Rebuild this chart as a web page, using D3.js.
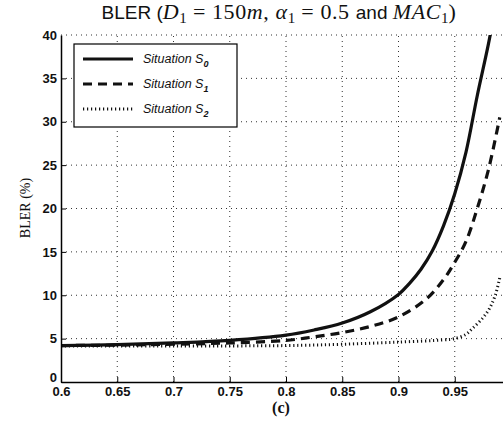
<!DOCTYPE html>
<html>
<head>
<meta charset="utf-8">
<script src="https://cdn.jsdelivr.net/npm/d3@7"></script>
<style>
  body { margin: 0; background: #fff; }
  svg { display: block; }
</style>
</head>
<body>
<svg id="chart" width="503" height="425"></svg>
<script>
// BLER curves
const xS0 = [0.6, 0.65, 0.7, 0.75, 0.8, 0.825, 0.85, 0.875, 0.9, 0.91, 0.92, 0.93, 0.94, 0.95, 0.96, 0.97, 0.98, 0.985];
const yS0 = [4.2, 4.3, 4.5, 4.8, 5.4, 6.0, 6.8, 8.1, 10.1, 11.4, 13.0, 15.1, 18.0, 21.7, 26.5, 33.0, 39.0, 42.5];

const xS1 = [0.6, 0.65, 0.7, 0.75, 0.8, 0.825, 0.85, 0.875, 0.9, 0.925, 0.94, 0.95, 0.96, 0.97, 0.98, 0.99];
const yS1 = [4.2, 4.25, 4.35, 4.5, 4.8, 5.2, 5.7, 6.4, 7.5, 9.6, 11.8, 13.8, 16.2, 20.0, 24.5, 30.5];

const xS2 = [0.6, 0.7, 0.8, 0.85, 0.9, 0.94, 0.95, 0.96, 0.966, 0.975, 0.981, 0.986, 0.99];
const yS2 = [4.15, 4.15, 4.2, 4.35, 4.6, 4.85, 5.0, 5.5, 6.2, 7.4, 8.5, 10.0, 12.0];

const xTicks = [0.6, 0.65, 0.7, 0.75, 0.8, 0.85, 0.9, 0.95];
const yTicks = [0, 5, 10, 15, 20, 25, 30, 35, 40];
const legendNames = ["0", "1", "2"];

const margin = { top: 35, left: 61 };
const width = 450;   // right edge lies beyond the picture
const height = 347;

const svg = d3.select('#chart');

const x = d3.scaleLinear().domain([0.6, 1.0]).range([margin.left, margin.left + width]);
const y = d3.scaleLinear().domain([0, 40]).range([margin.top + height, margin.top]);

svg.append('defs').append('clipPath').attr('id', 'plot')
  .append('rect')
  .attr('x', margin.left).attr('y', margin.top)
  .attr('width', width).attr('height', height);

// Grid
const grid = svg.append('g').attr('stroke', '#333').attr('stroke-width', 1).attr('stroke-dasharray', '1,4');
grid.selectAll('.gx')
  .data(xTicks.slice(1))
  .enter().append('line')
  .attr('x1', d => x(d)).attr('x2', d => x(d))
  .attr('y1', y(0)).attr('y2', y(40));
grid.selectAll('.gy')
  .data(yTicks.slice(1))
  .enter().append('line')
  .attr('x1', x(0.6)).attr('x2', x(1.0))
  .attr('y1', d => y(d)).attr('y2', d => y(d));

// Curves
const line = d3.line().x(d => x(d[0])).y(d => y(d[1])).curve(d3.curveCatmullRom.alpha(0.5));
const curves = svg.append('g').attr('clip-path', 'url(#plot)').attr('fill', 'none').attr('stroke', '#111');

curves.append('path')
  .datum(d3.zip(xS0, yS0))
  .attr('stroke-width', 3.2)
  .attr('d', line);

curves.append('path')
  .datum(d3.zip(xS1, yS1))
  .attr('stroke-width', 3.2)
  .attr('stroke-dasharray', '9,6')
  .attr('d', line);

curves.append('path')
  .datum(d3.zip(xS2, yS2))
  .attr('stroke-width', 3)
  .attr('stroke-dasharray', '1.2,2.8')
  .attr('d', line);

// Axes (inward ticks)
const xAxis = svg.append('g')
  .attr('transform', `translate(0,${y(0)})`)
  .call(d3.axisBottom(x).tickValues(xTicks).tickSizeInner(-5).tickSizeOuter(0).tickPadding(5)
    .tickFormat(d3.format('')));
xAxis.select('.domain').attr('stroke', '#000').attr('stroke-width', 1.5);
xAxis.selectAll('.tick line').attr('stroke', '#000');
xAxis.selectAll('text')
  .style('font-family', '"Liberation Sans", Arial, sans-serif')
  .style('font-size', '13px').style('font-weight', 'bold').attr('fill', '#111');

const yAxis = svg.append('g')
  .attr('transform', `translate(${x(0.6)},0)`)
  .call(d3.axisLeft(y).tickValues(yTicks).tickSizeInner(-5).tickSizeOuter(0).tickPadding(4));
yAxis.select('.domain').attr('stroke', '#000').attr('stroke-width', 1.5);
yAxis.selectAll('.tick line').attr('stroke', '#000');
yAxis.selectAll('text')
  .style('font-family', '"Liberation Sans", Arial, sans-serif')
  .style('font-size', '13px').style('font-weight', 'bold').attr('fill', '#111');
yAxis.selectAll('.tick').filter(d => d === 0).select('text').attr('dy', '-0.05em');
yAxis.selectAll('.tick').filter(d => d === 40).select('line').remove();

// Legend
const legend = svg.append('g').attr('transform', 'translate(74,44)');
legend.append('rect')
  .attr('width', 163).attr('height', 83)
  .attr('fill', '#fff').attr('stroke', '#000').attr('stroke-width', 1.2);
const dashes = [null, '9,6', '1.2,2.8'];
legendNames.forEach((n, i) => {
  const ly = 15 + i * 25;
  legend.append('line')
    .attr('x1', 9).attr('x2', 59).attr('y1', ly).attr('y2', ly)
    .attr('stroke', '#111').attr('stroke-width', 3)
    .attr('stroke-dasharray', dashes[i]);
  const t = legend.append('text')
    .attr('x', 69).attr('y', ly + 4)
    .style('font-family', '"Liberation Sans", Arial, sans-serif')
    .style('font-size', '12.5px').style('font-style', 'italic').attr('fill', '#111')
    .text('Situation S');
  t.append('tspan').attr('dy', 4).style('font-size', '9px').style('font-weight', 'bold').text(n);
});

// Title
const title = svg.append('text')
  .attr('x', 279).attr('y', 19)
  .attr('text-anchor', 'middle')
  .style('font-size', '19px').attr('fill', '#111');
const serif = '"Liberation Serif", "DejaVu Serif", serif';
const sans = '"Liberation Sans", Arial, sans-serif';
const parts = [
  ['BLER (', sans, 'normal', 0], ['D', serif, 'italic', 0], ['1', serif, 'normal', 4],
  ['\u00a0=\u00a0150', serif, 'normal', -4], ['m', serif, 'italic', 0], [',\u00a0', serif, 'normal', 0],
  ['α', serif, 'italic', 0], ['1', serif, 'normal', 4], ['\u00a0=\u00a00.5 ', serif, 'normal', -4],
  ['and ', sans, 'normal', 0], ['MAC', serif, 'italic', 0], ['1', serif, 'normal', 4],
  [')', serif, 'normal', -4]
];
parts.forEach(([s, f, st, dy]) => {
  const sp = title.append('tspan').style('font-family', f).style('font-style', st).text(s);
  if (dy) sp.attr('dy', dy);
  if (dy > 0) sp.style('font-size', '15px');
  else if (f === serif) sp.style('font-size', '22px').style('letter-spacing', '0.6px');
});

// Y axis title
svg.append('text')
  .attr('transform', 'translate(30,208) rotate(-90)')
  .attr('text-anchor', 'middle')
  .style('font-family', serif).style('font-size', '14px').attr('fill', '#111')
  .text('BLER (%)');

// Caption
svg.append('text')
  .attr('x', 281).attr('y', 413)
  .attr('text-anchor', 'middle')
  .style('font-family', serif).style('font-size', '16px').style('font-weight', 'bold').attr('fill', '#111')
  .text('(c)');
</script>
</body>
</html>
